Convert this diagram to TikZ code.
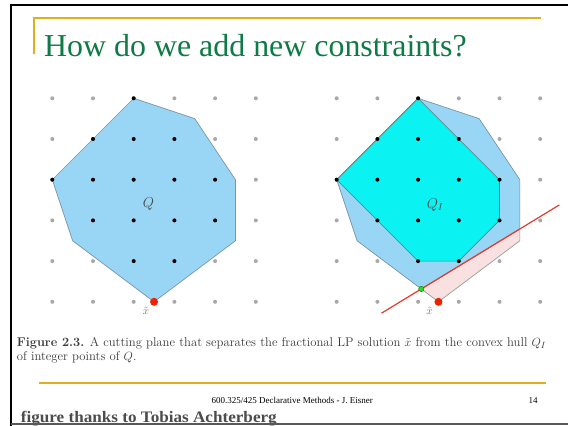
\documentclass[tikz,border=0pt]{standalone}
\usepackage{fontspec}
\newfontfamily\slidefont{Liberation Serif}
\definecolor{qblue}{HTML}{99D5F5}
\definecolor{qcyan}{HTML}{0AF2F2}
\definecolor{qpink}{HTML}{FAE1E1}
\definecolor{edgec}{HTML}{7A95A8}
\definecolor{cutred}{HTML}{E53A2E}
\definecolor{dotred}{HTML}{EE2200}
\definecolor{dotgreen}{HTML}{22DD22}
\definecolor{dotgray}{HTML}{A8A8A8}
\definecolor{titlegreen}{HTML}{0F7A45}
\definecolor{slidegold}{RGB}{225,175,30}
\definecolor{captxt}{HTML}{3A3A3A}
\tikzset{
  gdot/.style={fill=dotgray},
  bdot/.style={fill=black},
  qpoly/.style={fill=qblue, draw=edgec, line width=0.7pt},
  qipoly/.style={fill=qcyan, draw=black!55, line width=0.6pt},
  pinkpoly/.style={fill=qpink, draw=gray!80, line width=0.7pt},
  cutline/.style={draw=cutred, line width=1.2pt},
  mlabel/.style={text=black!70, font=\fontsize{14}{14}\selectfont, inner sep=0pt},
  xlabel/.style={text=black!55, font=\fontsize{11}{11}\selectfont, inner sep=0pt},
  goldline/.style={draw=slidegold, line width=1.8pt},
  goldbar/.style={fill=slidegold},
  frameline/.style={draw=black, line width=2pt},
  captionstyle/.style={text=captxt, font=\fontsize{12.7}{14}\selectfont, inner sep=0pt, anchor=base west},
  footer/.style={font=\slidefont\fontsize{9}{9}\selectfont, inner sep=0pt, anchor=base}
}
\begin{document}
\begin{tikzpicture}[x=1pt,y=-1pt]
\useasboundingbox (0,0) rectangle (568,426);
\fill[white] (0,0) rectangle (568,426);

% frame
\draw[frameline] (11,426) -- (11,5) -- (568,5);

% title
\draw[goldline] (33.7,54.3) -- (33.7,17.7) -- (541,17.7);
\node[anchor=base west, inner sep=0pt, text=titlegreen, font=\slidefont\fontsize{31.9}{32}\selectfont] (title) at (44,56) {How do we add new constraints?};

% left lattice
\begin{scope}[shift={(52.3pt,-98.3pt)}, x=40.7pt, y=-40.7pt]
  \coordinate (qa) at (2,0);
  \coordinate (qb) at (3.5,0.5);
  \coordinate (qc) at (4.5,2);
  \coordinate (qd) at (4.5,3.5);
  \coordinate (qe) at (2.5,5);
  \coordinate (qf) at (0.5,3.5);
  \coordinate (qg) at (0,2);
  \filldraw[qpoly] (qa) -- (qb) -- (qc) -- (qd) -- (qe) -- (qf) -- (qg) -- cycle;
  \foreach \i in {0,...,5} \foreach \j in {0,...,5} \fill[gdot] (\i,\j) circle[radius=2pt];
  \foreach \i/\j in {2/0,1/1,2/1,3/1,0/2,1/2,2/2,3/2,4/2,1/3,2/3,3/3,4/3,2/4,3/4}
    \fill[bdot] (\i,\j) circle[radius=2pt];
  \node[mlabel] (ql) at (2.36,2.6) {$Q$};
  \fill[dotred] (qe) circle[radius=4pt];
  \node[xlabel] (xl) at (2.30,5.22) {$\tilde{x}$};
\end{scope}

% right lattice
\begin{scope}[shift={(336.7pt,-98.3pt)}, x=40.7pt, y=-40.7pt]
  \coordinate (ra) at (2,0);
  \coordinate (rb) at (3.5,0.5);
  \coordinate (rc) at (4.5,2);
  \coordinate (rcut) at (4.5,3.21);
  \coordinate (rd) at (4.5,3.5);
  \coordinate (re) at (2.5,5);
  \coordinate (rg) at (2.079,4.684);
  \coordinate (rf) at (0.5,3.5);
  \coordinate (rh) at (0,2);
  \coordinate (l1) at (1.1,5.28);
  \coordinate (l2) at (5.47,2.62);
  \filldraw[pinkpoly] (rg) -- (rcut) -- (rd) -- (re) -- cycle;
  \filldraw[qpoly] (ra) -- (rb) -- (rc) -- (rcut) -- (rg) -- (rf) -- (rh) -- cycle;
  \filldraw[qipoly] (2,0) -- (4,2) -- (4,3) -- (3,4) -- (2,4) -- (0,2) -- cycle;
  \foreach \i in {0,...,5} \foreach \j in {0,...,5} \fill[gdot] (\i,\j) circle[radius=2pt];
  \foreach \i/\j in {2/0,1/1,2/1,3/1,0/2,1/2,2/2,3/2,4/2,1/3,2/3,3/3,4/3,2/4,3/4}
    \fill[bdot] (\i,\j) circle[radius=2pt];
  \node[mlabel] (qil) at (2.42,2.62) {$Q_I$};
  \draw[cutline] (l1) -- (l2);
  \filldraw[fill=dotgreen, draw=green!50!black, line width=0.4pt] (rg) circle[radius=2.7pt];
  \fill[dotred] (re) circle[radius=4pt];
  \node[xlabel] (xr) at (2.28,5.22) {$\tilde{x}$};
\end{scope}

% caption
\node[captionstyle] (cap1) at (16.7,346) {\textbf{Figure 2.3.} A cutting plane that separates the fractional LP solution $\tilde{x}$ from the convex hull $Q_I$};
\node[captionstyle] (cap2) at (16.7,360) {of integer points of $Q$.};

% footer
\fill[goldbar] (39.3,382.4) rectangle (545.7,384.4);
\node[footer] (foot) at (292.2,403) {600.325/425 Declarative Methods - J. Eisner};
\node[footer] (page) at (533,403) {14};
\node[anchor=base west, inner sep=0pt, text=black!70, xscale=1.07, font=\slidefont\bfseries\fontsize{16}{16}\selectfont] (thanks) at (20.7,422) {figure thanks to Tobias Achterberg};
\draw[draw=black!65, line width=2pt] (11,424) -- (568,424);
\end{tikzpicture}
\end{document}
